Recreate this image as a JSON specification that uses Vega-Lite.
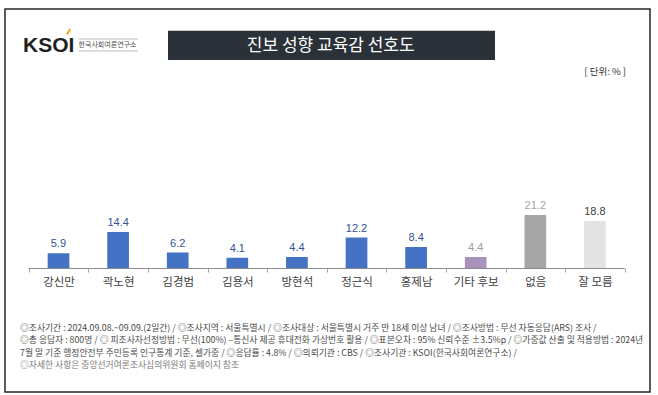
{
  "$schema": "https://vega.github.io/schema/vega-lite/v6.json",
  "width": 645,
  "height": 383,
  "autosize": {"type": "none"},
  "padding": {"left": 5, "top": 9, "right": 8, "bottom": 3},
  "background": "white",
  "config": {"view": {"stroke": "#262626", "strokeWidth": 1.5}, "font": "Noto Sans CJK KR"},
  "layer": [
    {
      "data": {"values": [
        {"name": "강신만", "value": 5.9, "type": "후보"},
        {"name": "곽노현", "value": 14.4, "type": "후보"},
        {"name": "김경범", "value": 6.2, "type": "후보"},
        {"name": "김용서", "value": 4.1, "type": "후보"},
        {"name": "방현석", "value": 4.4, "type": "후보"},
        {"name": "정근식", "value": 12.2, "type": "후보"},
        {"name": "홍제남", "value": 8.4, "type": "후보"},
        {"name": "기타 후보", "value": 4.4, "type": "기타"},
        {"name": "없음", "value": 21.2, "type": "없음"},
        {"name": "잘 모름", "value": 18.8, "type": "모름"}
      ]},
      "layer": [
        {
          "mark": {"type": "bar", "color": "#8c8c8c"},
          "encoding": {
            "x": {"field": "name", "type": "nominal", "sort": null, "scale": {"paddingInner": 0, "paddingOuter": 0.411, "align": 0.484},
                  "axis": {"title": null, "domain": false, "grid": false, "ticks": true, "tickBand": "extent", "tickSize": 4, "tickColor": "#a6a6a6", "labelAngle": 0, "labelFontSize": 11.5, "labelColor": "#404040", "labelFont": "Noto Sans CJK KR", "labelPadding": 4, "offset": -124, "orient": "bottom"}},
            "y": {"datum": 0, "type": "quantitative", "scale": {"domain": [-49.6, 103.6], "nice": false, "zero": false}, "axis": null},
            "y2": {"datum": -0.4}
          }
        },
        {
          "mark": {"type": "bar", "width": {"band": 0.364}},
          "encoding": {
            "x": {"field": "name", "type": "nominal", "sort": null, "scale": {"paddingInner": 0, "paddingOuter": 0.411, "align": 0.484},
                  "axis": {"title": null, "domain": false, "grid": false, "ticks": true, "tickBand": "extent", "tickSize": 4, "tickColor": "#a6a6a6", "labelAngle": 0, "labelFontSize": 11.5, "labelColor": "#404040", "labelFont": "Noto Sans CJK KR", "labelPadding": 4, "offset": -124, "orient": "bottom"}},
            "y": {"field": "value", "type": "quantitative", "scale": {"domain": [-49.6, 103.6], "nice": false, "zero": false}, "axis": null},
            "y2": {"datum": 0},
            "color": {"field": "type", "type": "nominal", "scale": {"domain": ["후보", "기타", "없음", "모름"], "range": ["#4472c4", "#a993bd", "#a6a6a6", "#e3e3e3"]}, "legend": null}
          }
        },
        {
          "mark": {"type": "text", "dy": -6, "baseline": "alphabetic", "align": "center", "font": "Liberation Sans", "fontSize": 11},
          "encoding": {
            "x": {"field": "name", "type": "nominal", "sort": null, "scale": {"paddingInner": 0, "paddingOuter": 0.411, "align": 0.484},
                  "axis": {"title": null, "domain": false, "grid": false, "ticks": true, "tickBand": "extent", "tickSize": 4, "tickColor": "#a6a6a6", "labelAngle": 0, "labelFontSize": 11.5, "labelColor": "#404040", "labelFont": "Noto Sans CJK KR", "labelPadding": 4, "offset": -124, "orient": "bottom"}},
            "y": {"field": "value", "type": "quantitative", "scale": {"domain": [-49.6, 103.6], "nice": false, "zero": false}, "axis": null},
            "text": {"field": "value", "type": "quantitative", "format": ".1f"},
            "color": {"field": "type", "type": "nominal", "scale": {"domain": ["후보", "기타", "없음", "모름"], "range": ["#2f5597", "#a39aa8", "#a6a6a6", "#404040"]}, "legend": null}
          }
        }
      ],
      "resolve": {"scale": {"color": "independent"}}
    },
    {
      "data": {"values": [{}]},
      "layer": [
        {
          "mark": {"type": "rect", "color": "#2b3138"},
          "encoding": {
            "x": {"datum": 25.27, "type": "quantitative", "scale": {"domain": [0, 100], "nice": false, "zero": false}, "axis": null},
            "x2": {"datum": 75.97},
            "y": {"datum": 94.9, "type": "quantitative", "scale": {"domain": [-49.6, 103.6], "nice": false, "zero": false}, "axis": null},
            "y2": {"datum": 83.2}
          }
        },
        {
          "mark": {"type": "text", "text": "진보 성향 교육감 선호도", "fontSize": 17, "color": "#ffffff", "align": "center", "baseline": "middle", "font": "Noto Sans CJK KR"},
          "encoding": {
            "x": {"datum": 50.5, "type": "quantitative", "scale": {"domain": [0, 100], "nice": false, "zero": false}, "axis": null},
            "y": {"datum": 89.0, "type": "quantitative", "scale": {"domain": [-49.6, 103.6], "nice": false, "zero": false}, "axis": null}
          }
        },
        {
          "mark": {"type": "text", "text": "KSOI", "fontSize": 21, "fontWeight": "bold", "font": "Liberation Sans", "color": "#231f20", "align": "left", "baseline": "middle"},
          "encoding": {
            "x": {"datum": 2.79, "type": "quantitative", "scale": {"domain": [0, 100], "nice": false, "zero": false}, "axis": null},
            "y": {"datum": 88.8, "type": "quantitative", "scale": {"domain": [-49.6, 103.6], "nice": false, "zero": false}, "axis": null}
          }
        },
        {
          "mark": {"type": "rule", "color": "#f4a21c", "strokeWidth": 2},
          "encoding": {
            "x": {"datum": 9.6, "type": "quantitative", "scale": {"domain": [0, 100], "nice": false, "zero": false}, "axis": null},
            "x2": {"datum": 10.1},
            "y": {"datum": 93.4, "type": "quantitative", "scale": {"domain": [-49.6, 103.6], "nice": false, "zero": false}, "axis": null},
            "y2": {"datum": 95.6}
          }
        },
        {
          "mark": {"type": "text", "text": "한국사회여론연구소", "fontSize": 7, "color": "#505050", "align": "left", "baseline": "middle", "font": "Noto Sans CJK KR"},
          "encoding": {
            "x": {"datum": 11.4, "type": "quantitative", "scale": {"domain": [0, 100], "nice": false, "zero": false}, "axis": null},
            "y": {"datum": 89.2, "type": "quantitative", "scale": {"domain": [-49.6, 103.6], "nice": false, "zero": false}, "axis": null}
          }
        },
        {
          "mark": {"type": "rule", "color": "#bbbbbb", "strokeWidth": 1},
          "encoding": {
            "x": {"datum": 11.4, "type": "quantitative", "scale": {"domain": [0, 100], "nice": false, "zero": false}, "axis": null},
            "x2": {"datum": 20.6},
            "y": {"datum": 91.6, "type": "quantitative", "scale": {"domain": [-49.6, 103.6], "nice": false, "zero": false}, "axis": null}
          }
        },
        {
          "mark": {"type": "rule", "color": "#bbbbbb", "strokeWidth": 1},
          "encoding": {
            "x": {"datum": 11.4, "type": "quantitative", "scale": {"domain": [0, 100], "nice": false, "zero": false}, "axis": null},
            "x2": {"datum": 20.6},
            "y": {"datum": 86.8, "type": "quantitative", "scale": {"domain": [-49.6, 103.6], "nice": false, "zero": false}, "axis": null}
          }
        },
        {
          "mark": {"type": "text", "text": "[ 단위: % ]", "fontSize": 9.5, "color": "#333333", "align": "right", "baseline": "middle", "font": "Noto Sans CJK KR"},
          "encoding": {
            "x": {"datum": 96.28, "type": "quantitative", "scale": {"domain": [0, 100], "nice": false, "zero": false}, "axis": null},
            "y": {"datum": 78.4, "type": "quantitative", "scale": {"domain": [-49.6, 103.6], "nice": false, "zero": false}, "axis": null}
          }
        },
        {
          "mark": {"type": "text", "text": [
            "◎조사기간 : 2024.09.08.~09.09.(2일간)  /  ◎조사지역 : 서울특별시 / ◎조사대상 : 서울특별시 거주 만 18세 이상 남녀 / ◎조사방법 : 무선 자동응답(ARS) 조사 /",
            "◎총 응답자 : 800명 / ◎ 피조사자선정방법 : 무선(100%) –통신사 제공 휴대전화 가상번호 활용 / ◎표본오차 : 95% 신뢰수준 ±3.5%p / ◎가중값 산출 및 적용방법 : 2024년",
            "7월 말 기준 행정안전부 주민등록 인구통계 기준, 셀가중 / ◎응답률 : 4.8% / ◎의뢰기관 : CBS / ◎조사기관 : KSOI(한국사회여론연구소) /"
          ], "fontSize": 8.8, "lineHeight": 12.4, "color": "#4a4a4a", "align": "left", "baseline": "top", "font": "Noto Sans CJK KR"},
          "encoding": {
            "x": {"datum": 2.33, "type": "quantitative", "scale": {"domain": [0, 100], "nice": false, "zero": false}, "axis": null},
            "y": {"datum": -22.4, "type": "quantitative", "scale": {"domain": [-49.6, 103.6], "nice": false, "zero": false}, "axis": null}
          }
        },
        {
          "mark": {"type": "text", "text": "◎자세한 사항은 중앙선거여론조사심의위원회 홈페이지 참조", "fontSize": 8.8, "color": "#7a7a7a", "align": "left", "baseline": "top", "font": "Noto Sans CJK KR"},
          "encoding": {
            "x": {"datum": 2.33, "type": "quantitative", "scale": {"domain": [0, 100], "nice": false, "zero": false}, "axis": null},
            "y": {"datum": -37.0, "type": "quantitative", "scale": {"domain": [-49.6, 103.6], "nice": false, "zero": false}, "axis": null}
          }
        }
      ]
    }
  ],
  "resolve": {"scale": {"x": "independent"}}
}
